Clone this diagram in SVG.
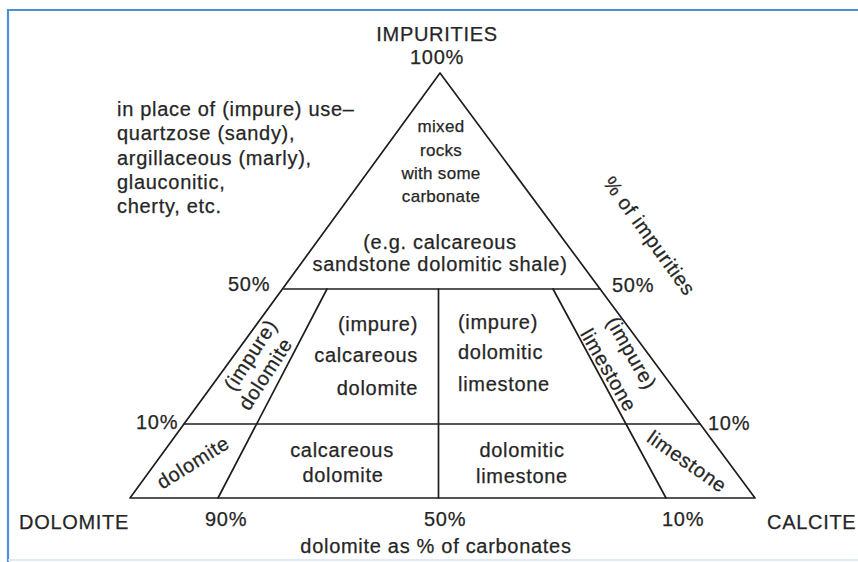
<svg xmlns="http://www.w3.org/2000/svg" width="858" height="562" viewBox="0 0 858 562">
<style>
text{font-family:"Liberation Sans",Arial,Helvetica,sans-serif;font-size:20px;fill:#262626;stroke:#262626;stroke-width:0.25;letter-spacing:0.7px}
.m{text-anchor:middle}
.e{text-anchor:end}
.s{font-size:17px;letter-spacing:0.3px}
.ln{stroke:#1e1e1e;stroke-width:1.7;fill:none;stroke-linecap:round;stroke-linejoin:round}
</style>
<rect width="858" height="562" fill="#ffffff"/>
<g id="frame">
<path d="M8 562 V10 H858" fill="none" stroke="#4d8fd6" stroke-width="2.2"/>
<path d="M8 560 H858" fill="none" stroke="#d6e5f4" stroke-width="1.5"/>
</g>
<g id="connectors">
<path class="ln" d="M130 498 L440 73 L755 498 Z"/>
<path class="ln" d="M284 289 H600"/>
<path class="ln" d="M184 424 H700"/>
<path class="ln" d="M438.5 289 V498"/>
<path class="ln" d="M327 289 L218 498"/>
<path class="ln" d="M553 289 L666 498"/>
</g>
<g id="apex-impurities">
<text class="m" x="437" y="41">IMPURITIES</text>
<text class="m" x="437" y="64">100%</text>
</g>
<g id="note">
<text x="117" y="116">in place of (impure) use–</text>
<text x="117" y="140">quartzose (sandy),</text>
<text x="117" y="164.5">argillaceous (marly),</text>
<text x="117" y="189">glauconitic,</text>
<text x="117" y="213">cherty, etc.</text>
</g>
<g id="mixed-rocks">
<text class="m s" x="441" y="132">mixed</text>
<text class="m s" x="441" y="156">rocks</text>
<text class="m s" x="441" y="179">with some</text>
<text class="m s" x="441" y="202">carbonate</text>
<text class="m" x="440" y="249">(e.g. calcareous</text>
<text class="m" x="440" y="271">sandstone dolomitic shale)</text>
</g>
<g id="axis-impurities">
<text class="m" transform="translate(648 237) rotate(54)" y="5">% of impurities</text>
<text x="228" y="291">50%</text>
<text x="612" y="292">50%</text>
<text x="136" y="429">10%</text>
<text x="708" y="430">10%</text>
</g>
<g id="impure-dolomite">
<text class="m" transform="translate(252 356) rotate(-57)" y="5">(impure)</text>
<text class="m" transform="translate(267 375) rotate(-57)" y="5">dolomite</text>
</g>
<g id="impure-calcareous-dolomite">
<text class="e" x="418" y="331">(impure)</text>
<text class="e" x="418" y="362">calcareous</text>
<text class="e" x="418" y="395">dolomite</text>
</g>
<g id="impure-dolomitic-limestone">
<text x="458" y="329">(impure)</text>
<text x="458" y="359">dolomitic</text>
<text x="458" y="391">limestone</text>
</g>
<g id="impure-limestone">
<text class="m" transform="translate(630 354) rotate(60)" y="5">(impure)</text>
<text class="m" transform="translate(607 371) rotate(60)" y="5">limestone</text>
</g>
<g id="dolomite">
<text class="m" transform="translate(194 464) rotate(-32)" y="5">dolomite</text>
</g>
<g id="calcareous-dolomite">
<text class="m" x="342" y="457">calcareous</text>
<text class="m" x="343" y="482">dolomite</text>
</g>
<g id="dolomitic-limestone">
<text class="m" x="522" y="457">dolomitic</text>
<text class="m" x="522" y="483">limestone</text>
</g>
<g id="limestone">
<text class="m" transform="translate(686 463) rotate(35)" y="5">limestone</text>
</g>
<g id="axis-carbonates">
<text x="19" y="529">DOLOMITE</text>
<text x="767" y="529">CALCITE</text>
<text x="205" y="526">90%</text>
<text x="424" y="526">50%</text>
<text x="662" y="526">10%</text>
<text class="m" x="436" y="553">dolomite as % of carbonates</text>
</g>
</svg>
